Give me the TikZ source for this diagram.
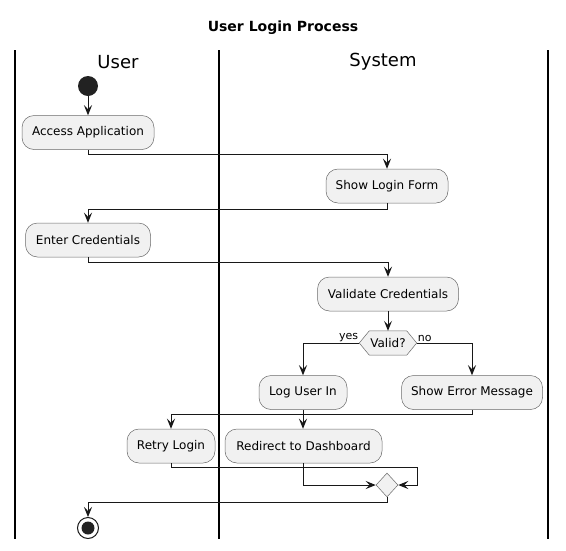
\documentclass[tikz,border=0pt]{standalone}
\usepackage{fontspec}
\setmainfont{DejaVu Sans}
\usetikzlibrary{arrows.meta,shapes.geometric,backgrounds,calc}
\definecolor{boxfill}{HTML}{F1F1F1}
\definecolor{boxline}{HTML}{6A6A6A}
\definecolor{ink}{HTML}{181818}
\definecolor{startfill}{HTML}{222222}
\tikzset{
  act/.style={draw=boxline,line width=0.5pt,fill=boxfill,rounded corners=12pt,
    minimum height=34pt,inner sep=0pt,font=\fontsize{12}{14}\selectfont,text=black},
  conn/.style={draw=ink,line width=1pt,-{Stealth[length=10pt,width=8pt,inset=4pt]}},
  lane/.style={draw=black,line width=1.4pt},
  lbl/.style={font=\fontsize{11}{13}\selectfont,inner sep=1pt},
  hdr/.style={font=\fontsize{18}{21}\selectfont},
}
\begin{document}
\begin{tikzpicture}[x=1pt,y=-1pt]
\useasboundingbox (0,0) rectangle (566,550);
% title
\node[font=\bfseries\fontsize{14}{16}\selectfont] (title) at (283,28) {User Login Process};
% lanes
\coordinate (l1t) at (15,50); \coordinate (l1b) at (15,539);
\coordinate (l2t) at (219,50); \coordinate (l2b) at (219,539);
\coordinate (l3t) at (548,50); \coordinate (l3b) at (548,539);
\draw[lane] (l1t) -- (l1b);
\draw[lane] (l2t) -- (l2b);
\draw[lane] (l3t) -- (l3b);
\node[hdr] (huser) at (118,62) {User};
\node[hdr] (hsys) at (383,62) {System};
% nodes
\node[circle,fill=startfill,minimum size=20pt,inner sep=0pt] (start) at (88,86) {};
\node[act,minimum width=132pt] (acc) at (88,132.5) {Access Application};
\node[act,minimum width=122pt] (login) at (387,186) {Show Login Form};
\node[act,minimum width=125pt] (enter) at (88,240) {Enter Credentials};
\node[act,minimum width=141pt] (val) at (388,294) {Validate Credentials};
\node[minimum width=57pt,minimum height=24pt,inner sep=0pt,font=\fontsize{12}{14}\selectfont] (valid) at (388,343) {Valid?};
\begin{scope}[on background layer]
\fill[white] (0,0) rectangle (566,550);
\draw[draw=boxline,line width=0.5pt,fill=boxfill] (valid.west) -- ([xshift=10pt]valid.north west) -- ([xshift=-10pt]valid.north east) -- (valid.east) -- ([xshift=-10pt]valid.south east) -- ([xshift=10pt]valid.south west) -- cycle;
\end{scope}
\node[act,minimum width=88pt] (log) at (303,392.5) {Log User In};
\node[act,minimum width=141pt] (err) at (472,392.5) {Show Error Message};
\node[act,minimum width=157pt] (redir) at (303.5,446) {Redirect to Dashboard};
\node[act,minimum width=88pt] (retry) at (171,446) {Retry Login};
\node[diamond,draw=boxline,line width=0.5pt,fill=boxfill,minimum width=22pt,minimum height=24pt,inner sep=0pt] (merge) at (387,485) {};
\node[circle,draw=ink,line width=1pt,fill=white,minimum size=21pt,inner sep=0pt] (end) at (88,528) {};
\node[circle,fill=startfill,minimum size=13pt,inner sep=0pt] (endin) at (end.center) {};
\coordinate (jr) at (417,485);
% labels
\node[lbl,anchor=south east] (yes) at (valid.west) {yes};
\node[lbl,anchor=south west] (no) at (valid.east) {no};
% connectors
\draw[conn] (start) -- (acc);
\draw[conn] (acc.south) -- ++(0,5) -| (login.north);
\draw[conn] (login.south) -- ++(0,6) -| (enter.north);
\draw[conn] (enter.south) -- ++(0,5) -| (val.north);
\draw[conn] (val.south) -- (valid.north);
\draw[conn] (valid.west) -| (log.north);
\draw[conn] (valid.east) -| (err.north);
\draw[conn] (log.south) -- (log.south |- redir.north);
\draw[conn] (err.south) -- ++(0,5) -| (retry.north);
\draw[conn] (redir.south) |- (merge.west);
\draw[conn] (retry.south) -- ++(0,4) -| (jr) -- (merge.east);
\draw[conn] (merge.south) -- ++(0,5) -| (end.north);
\end{tikzpicture}
\end{document}
